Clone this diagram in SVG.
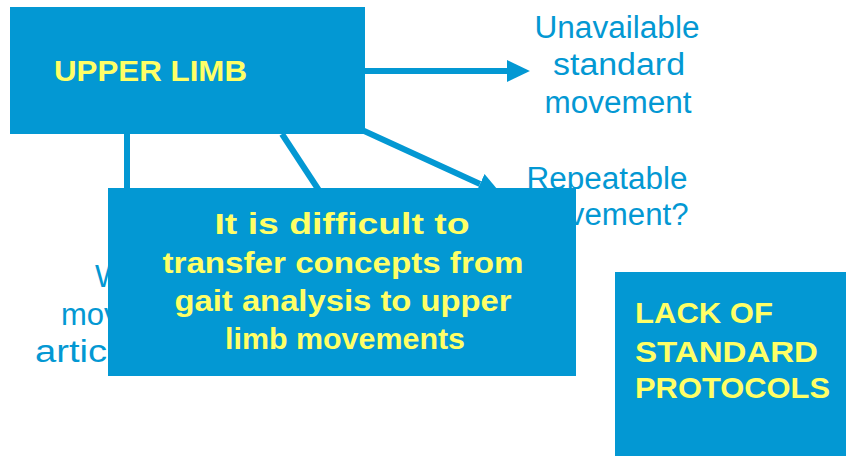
<svg xmlns="http://www.w3.org/2000/svg" width="846" height="456" viewBox="0 0 846 456">
<style>
.box{fill:#0398D3}
.yt{fill:#FFFF66;font-family:"Liberation Sans",Arial,sans-serif;font-weight:bold;font-size:30px}
.bt{fill:#0398D3;font-family:"Liberation Sans",Arial,sans-serif;font-size:31px}
.ln{stroke:#0398D3;stroke-width:6;fill:none}
</style>
<defs>
<marker id="ah" markerUnits="userSpaceOnUse" markerWidth="24" markerHeight="24" viewBox="0 0 22 22" refX="0" refY="11" orient="auto">
<path d="M0,1 L21,11 L0,21 Z" fill="#0398D3"/>
</marker>
</defs>
<rect width="846" height="456" fill="#ffffff"/>
<g id="labels">
<text class="bt" x="617" y="38" text-anchor="middle" textLength="165" lengthAdjust="spacingAndGlyphs">Unavailable</text>
<text class="bt" x="619" y="75" text-anchor="middle" textLength="132" lengthAdjust="spacingAndGlyphs">standard</text>
<text class="bt" x="618" y="113" text-anchor="middle" textLength="147" lengthAdjust="spacingAndGlyphs">movement</text>
<text class="bt" x="607" y="189" text-anchor="middle" textLength="161" lengthAdjust="spacingAndGlyphs">Repeatable</text>
<text class="bt" x="607" y="225" text-anchor="middle" textLength="163" lengthAdjust="spacingAndGlyphs">movement?</text>
<text class="bt" x="95" y="287">W</text>
<text class="bt" x="61" y="325">mov</text>
<text class="bt" x="35" y="362" textLength="72" lengthAdjust="spacingAndGlyphs">artic</text>
</g>
<g id="connectors">
<line class="ln" x1="364" y1="71" x2="507" y2="71" marker-end="url(#ah)"/>
<line class="ln" x1="127" y1="134" x2="127" y2="195"/>
<line class="ln" x1="282" y1="134" x2="320" y2="192"/>
<line class="ln" x1="362" y1="130" x2="480" y2="184" marker-end="url(#ah)"/>
</g>
<g id="upper-limb">
<rect class="box" x="10" y="7" width="355" height="127"/>
<text class="yt" x="54" y="81" textLength="193" lengthAdjust="spacingAndGlyphs">UPPER LIMB</text>
</g>
<g id="difficult">
<rect class="box" x="108" y="188" width="468" height="188"/>
<text class="yt" x="342" y="234" text-anchor="middle" textLength="255" lengthAdjust="spacingAndGlyphs">It is difficult to</text>
<text class="yt" x="343" y="273" text-anchor="middle" textLength="361" lengthAdjust="spacingAndGlyphs">transfer concepts from</text>
<text class="yt" x="343" y="311" text-anchor="middle" textLength="337" lengthAdjust="spacingAndGlyphs">gait analysis to upper</text>
<text class="yt" x="345" y="349" text-anchor="middle" textLength="240" lengthAdjust="spacingAndGlyphs">limb movements</text>
</g>
<g id="lack-protocols">
<rect class="box" x="615" y="272" width="231" height="184"/>
<text class="yt" x="635" y="323" textLength="138" lengthAdjust="spacingAndGlyphs">LACK OF</text>
<text class="yt" x="635" y="362" textLength="183" lengthAdjust="spacingAndGlyphs">STANDARD</text>
<text class="yt" x="635" y="398" textLength="195" lengthAdjust="spacingAndGlyphs">PROTOCOLS</text>
</g>
</svg>
